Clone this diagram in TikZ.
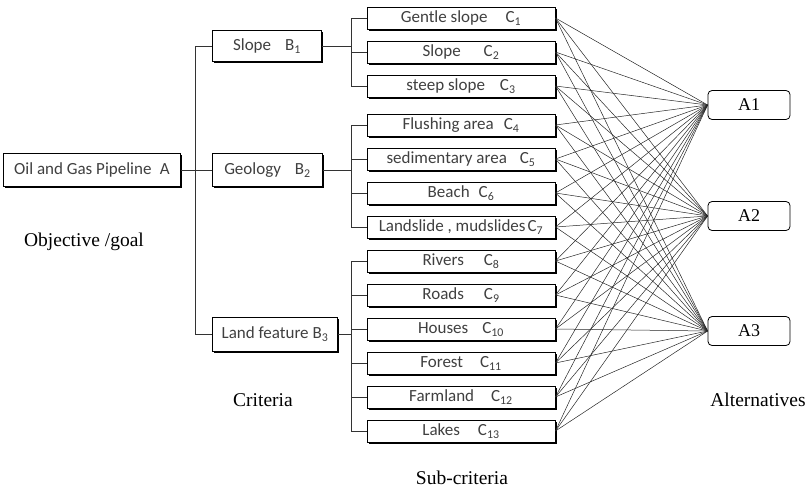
\documentclass[tikz,border=0pt]{standalone}
\usepackage{fontspec}
\setmainfont{Liberation Serif}
\newfontfamily\boxfont{Carlito}
\usetikzlibrary{shadows, positioning}

\begin{document}
\begin{tikzpicture}[x=1pt, y=-1pt,
    box/.style={draw, line width=0.9pt, fill=white, inner sep=0pt,
        font=\boxfont\fontsize{17}{19}\selectfont, text=black!75,
        text height=11.5pt, text depth=2pt,
        drop shadow={shadow xshift=1.8pt, shadow yshift=-1.8pt, fill=black, opacity=1}},
    subbox/.style={box, minimum width=188pt, minimum height=22pt},
    alt/.style={draw, line width=0.8pt, rounded corners=4pt, inner sep=0pt,
        minimum width=82pt, minimum height=29pt, font=\fontsize{18}{20}\selectfont},
    lab/.style={font=\fontsize{19.5}{22}\selectfont},
    tree/.style={line width=0.8pt, black!80},
    link/.style={line width=0.5pt, black!85}]
    \useasboundingbox (0,0) rectangle (808,491);

    % goal
    \node[box, minimum width=177pt, minimum height=33pt] (goal) at (92,170)
        {Oil and Gas Pipeline\enspace A};

    % criteria
    \node[box, minimum width=109pt, minimum height=31pt] (b1) at (267,46)
        {Slope\hspace{14pt}B\textsubscript{1}};
    \node[box, minimum width=110pt, minimum height=33pt] (b2) at (267.5,170)
        {Geology\hspace{14pt}B\textsubscript{2}};
    \node[box, minimum width=125pt, minimum height=34pt] (b3) at (275,334)
        {Land feature B\textsubscript{3}};

    % sub-criteria
    \foreach \n/\y/\g/\t in {1/18/18/Gentle slope, 2/52/23/Slope, 3/86/15/steep slope,
        4/125/10/Flushing area, 5/159/13/sedimentary area, 6/193/9/Beach,
        7/227/2/{Landslide , mudslides}, 8/261/20/Rivers, 9/295/20/Roads,
        10/329/14/Houses, 11/363/17/Forest, 12/397/17/Farmland, 13/431/18/Lakes} {
        \node[subbox] (c\n) at (461,\y) {\t\hspace{\g pt}C\textsubscript{\n}};
    }

    % alternatives
    \node[alt] (a1) at (749,105) {A1};
    \node[alt] (a2) at (749,216) {A2};
    \node[alt] (a3) at (749,331) {A3};

    % tree
    \draw[tree] (goal.east) -- ++(14pt,0) coordinate (trunk);
    \foreach \b in {b1,b2,b3} {
        \draw[tree] (trunk) |- (\b.west);
    }
    \foreach \b/\list in {b1/{1,2,3}, b2/{4,5,6,7}, b3/{8,9,10,11,12,13}} {
        \foreach \i in \list {
            \draw[tree] (\b.east) -| ([xshift=-15pt]c\i.west) -- (c\i.west);
        }
    }

    % links
    \foreach \i in {1,...,13} {
        \foreach \j in {1,2,3} {
            \draw[link] (c\i.east) -- (a\j.west);
        }
    }

    % levels
    \node[lab] (goallab) at (84,242) {Objective /goal};
    \node[lab] (critlab) at (263,400) {Criteria};
    \node[lab] (sublab) at (462,478) {Sub-criteria};
    \node[lab] (altlab) at (758,400) {Alternatives};
\end{tikzpicture}
\end{document}
